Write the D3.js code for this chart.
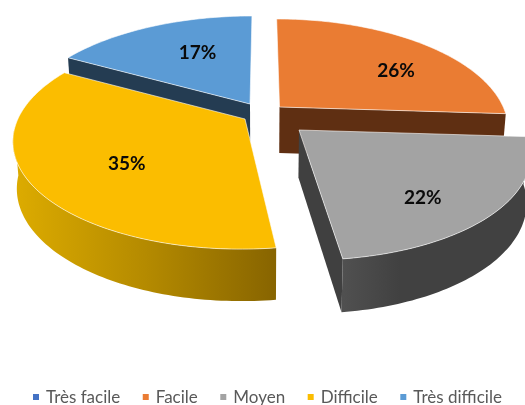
<!DOCTYPE html>
<html>
<head>
<meta charset="utf-8">
<script src="https://cdn.jsdelivr.net/npm/d3@7/dist/d3.min.js"></script>
<style>
html,body{margin:0;padding:0;background:#fff;overflow:hidden}
svg{display:block;filter:blur(0.35px)}
text{font-family:Lato,"Open Sans",sans-serif}
</style>
</head>
<body>
<svg id="c" width="525" height="405"></svg>
<script>
const categories = ["Très facile", "Facile", "Moyen", "Difficile", "Très difficile"];
const values = [0, 26, 22, 35, 17];
const topColors = ["#4472c4", "#ea7c33", "#a3a3a3", "#fbbd00", "#5b9bd5"];
const cutColors = ["#263f73", "#5f2f12", "#404040", "#8a6700", "#243c52"];

// Layout of the projection (not data)
const vanishX = 262, persp = 0.193, radiusX = 226, radiusY = 105;
const depths = [46, 46, 47.5, 46, 46];
const apexX = [262, 279.5, 299, 245, 250];
const apexY = [117, 107, 130, 119, 104];
const radiusK = [1, 0.99, 1, 1.005, 1.01];
const labelFrac = [0.5, 0.60, 0.59, 0.46, 0.585];
const labelR = [0.6, 0.68, 0.736, 0.614, 0.606];

const svg = d3.select("#c");
const defs = svg.append("defs");
const pie = d3.pie().sort(null).value(d => d)(values);
const line = d3.line();

function project(i, theta, r, lower) {
  const u = Math.sin(theta) * r, v = -Math.cos(theta) * r;
  const s = 1 / (1 - persp * v);
  let x = vanishX + (apexX[i] - vanishX + radiusX * radiusK[i] * u) * s;
  let y = apexY[i] + radiusY * v * s;
  if (lower) {
    x = vanishX + (x - vanishX) * 0.984;
    y = y + depths[i] + (s - 1) * 25;
  }
  return [x, y];
}
function arcPts(i, a0, a1, lower) {
  const n = Math.max(2, Math.ceil(Math.abs(a1 - a0) / 0.02));
  return d3.range(n + 1).map(k => project(i, a0 + (a1 - a0) * k / n, 1, lower));
}
function gradient(id, x0, x1, stops) {
  const g = defs.append("linearGradient").attr("id", id)
    .attr("gradientUnits", "userSpaceOnUse")
    .attr("x1", x0).attr("x2", x1).attr("y1", 0).attr("y2", 0);
  stops.forEach(s => g.append("stop").attr("offset", s[0]).attr("stop-color", s[1]));
  return "url(#" + id + ")";
}

const gold = gradient("gold", 17, 277, [[0, "#dcab00"], [0.5, "#b48a00"], [1, "#876400"]]);
const dark = gradient("dark", 343, 400, [[0, "#505050"], [1, "#414141"]]);

const chart = svg.append("g");

function cutFace(i, theta) {
  const poly = [project(i, 0, 0, false), project(i, theta, 1, false),
                project(i, theta, 1, true), project(i, 0, 0, true)];
  chart.append("path").attr("d", line(poly) + "Z").attr("fill", cutColors[i]);
}
function wall(i, a0, a1, fill) {
  const poly = arcPts(i, a0, a1, false).concat(arcPts(i, a0, a1, true).reverse());
  chart.append("path").attr("d", line(poly) + "Z").attr("fill", fill);
}
function topFace(i) {
  const d = pie[i];
  const poly = [project(i, 0, 0, false)].concat(arcPts(i, d.startAngle, d.endAngle, false));
  chart.append("path").attr("d", line(poly) + "Z")
    .attr("fill", topColors[i])
    .attr("stroke", "#ffffff").attr("stroke-opacity", 0.75).attr("stroke-width", 0.8)
    .attr("stroke-linejoin", "round");
}

// Back to front: Très difficile, Facile, Difficile, Moyen
cutFace(4, pie[4].startAngle); topFace(4);
cutFace(1, pie[1].endAngle); topFace(1);
wall(3, pie[3].startAngle, 1.47 * Math.PI, gold); topFace(3);
cutFace(2, pie[2].endAngle); wall(2, pie[2].startAngle, pie[2].endAngle, dark); topFace(2);

// Percent labels
const total = d3.sum(values);
const fmt = d3.format(".0%");
svg.append("g").selectAll("text")
  .data(pie.filter(d => d.value > 0))
  .join("text")
  .each(function (d) {
    const th = d.startAngle + (d.endAngle - d.startAngle) * labelFrac[d.index];
    const p = project(d.index, th, labelR[d.index], false);
    d3.select(this).attr("x", p[0]).attr("y", p[1]);
  })
  .attr("text-anchor", "middle").attr("dy", "0.36em")
  .attr("font-size", 19).attr("font-weight", 700).attr("fill", "#0a0a0a")
  .text(d => fmt(d.value / total));

// Legend
const legend = svg.append("g");
let lx = 33;
categories.forEach((c, i) => {
  legend.append("rect").attr("x", lx).attr("y", 394).attr("width", 6).attr("height", 6).attr("fill", topColors[i]);
  const t = legend.append("text").attr("x", lx + 13).attr("y", 402.5)
    .attr("font-size", 17).attr("fill", "#595959").text(c);
  lx += 13 + t.node().getComputedTextLength() + 22.5;
});
</script>
</body>
</html>
